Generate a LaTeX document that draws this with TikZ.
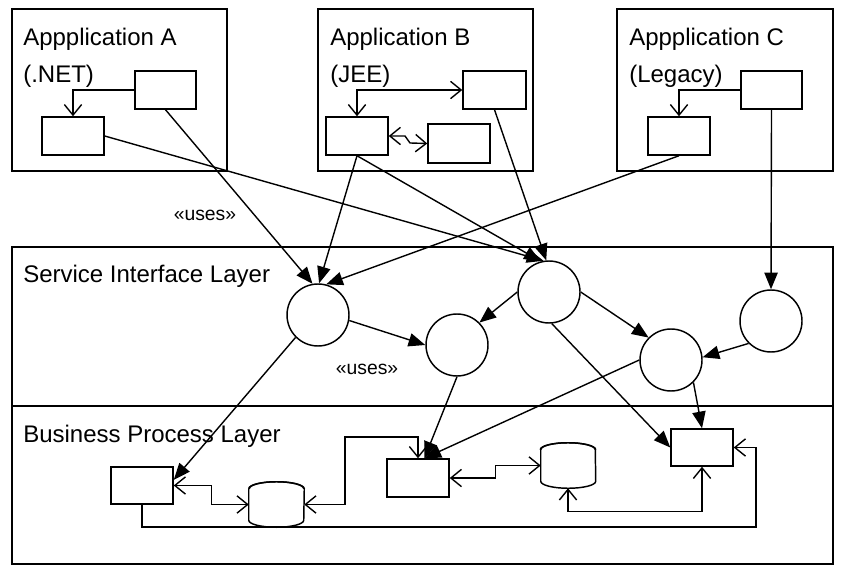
\documentclass[tikz,border=0pt]{standalone}
\usepackage{fontspec}
\setmainfont{Liberation Sans}
\usetikzlibrary{arrows.meta,fit,calc}
\begin{document}
\begin{tikzpicture}[x=0.75pt,y=-0.75pt,
  box/.style={draw,line width=1.1pt,inner sep=0pt,fit={#1}},
  layer/.style={draw,line width=1.2pt,inner sep=0pt,fit={#1}},
  svc/.style={draw,circle,line width=1.1pt,minimum size=46.5pt,inner sep=0pt},
  dbslot/.style={inner sep=0pt,fit={#1}},
  title/.style={anchor=base west,inner sep=0pt,font=\fontsize{18}{22}\selectfont},
  stereo/.style={inner sep=0pt,font=\fontsize{14.5}{16}\selectfont},
  conn/.style={line width=1.05pt},
  fa/.style={conn,-{Triangle[length=12.5pt,width=10pt]}},
  oa/.style={conn,-{Straight Barb[length=8pt,width=13pt]}},
  oab/.style={conn,{Straight Barb[length=8pt,width=13pt]}-{Straight Barb[length=8pt,width=13pt]}}
]
\useasboundingbox (0,0) rectangle (841,566);
\fill[white] (0,0) rectangle (841,566);

% application boxes
\node[box={(12,9) (227,171)}] (appA) {};
\node[box={(318,9) (533,171)}] (appB) {};
\node[box={(617,9) (833,171)}] (appC) {};
\node[title] (tA) at (23,46) {Appplication A};
\node[title] (tA2) at (23,83) {(.NET)};
\node[title] (tB) at (330,46) {Application B};
\node[title] (tB2) at (330,83) {(JEE)};
\node[title] (tC) at (629,46) {Appplication C};
\node[title] (tC2) at (629,83) {(Legacy)};

% inner boxes
\node[box={(135,71) (196,109)}] (aT) {};
\node[box={(42,117) (104,155)}] (aL) {};
\node[box={(463,71) (526,109)}] (bT) {};
\node[box={(326,117) (388,155)}] (bL) {};
\node[box={(428,124) (490,163)}] (bR) {};
\node[box={(741,71) (802,109)}] (cT) {};
\node[box={(648,117) (710,155)}] (cL) {};

% layers
\node[layer={(12,247) (833,406)}] (sil) {};
\node[layer={(12,406) (833,564)}] (bpl) {};
\node[title] (tS) at (23,282) {Service Interface Layer};
\node[title] (tP) at (23,442) {Business Process Layer};

% service circles
\node[svc] (s1) at (318,315) {};
\node[svc] (s2) at (457,345) {};
\node[svc] (s3) at (549,292) {};
\node[svc] (s4) at (671,360) {};
\node[svc] (s5) at (771,321) {};

% business process elements
\node[box={(111,467) (173,504)}] (p1) {};
\node[box={(387,459) (449,497)}] (p2) {};
\node[box={(671,429) (733,466)}] (p3) {};
\node[dbslot={(249,482) (304,527)}] (d1) {};
\node[dbslot={(541,443) (595,488)}] (d2) {};
\foreach \d in {d1,d2}{
  \draw[line width=1.1pt,fill=white]
    ($(\d.north west)+(0,7)$) -- ($(\d.south west)+(0,-7)$)
    arc[start angle=180,end angle=360,x radius=27.5,y radius=-7]
    -- ($(\d.north east)+(0,7)$)
    arc[start angle=0,end angle=180,x radius=27.5,y radius=-7];
  \draw[line width=1.1pt] ($(\d.north west)+(0,7)$)
    arc[start angle=180,end angle=360,x radius=27.5,y radius=7];
}

% stereotype labels
\node[stereo] (u1) at (205,215) {«uses»};
\node[stereo] (u2) at (367,369) {«uses»};

% connectors inside applications
\draw[oa] (aT.west) -| (aL.north);
\draw[oab] (bL.north) |- (bT.west);
\draw[oab] (bL.east) -- (405,136) -- (410,143) -- (bR.west);
\draw[oa] (cT.west) -| (cL.north);

% applications to services
\draw[fa] (aL.east) -- (s3.100);
\draw[fa] (aT.south) -- (s1.100);
\draw[fa] (bL.south) -- (s1.88);
\draw[fa] (bL.south) -- (s3.105);
\draw[fa] (bT.south) -- (s3.95);
\draw[fa] (cL.south) -- (s1.75);
\draw[fa] (cT.south) -- (s5.north);

% service to service
\draw[fa] (s1.-10) -- (s2.west);
\draw[fa] (s3.west) -- (s2.45);
\draw[fa] (s3.east) -- (s4.135);
\draw[fa] (s5.225) -- (s4.5);

% services to business processes
\draw[fa] (s3.-85) -- (p3.west);
\draw[fa] (s4.-45) -- (p3.north);
\draw[fa] (s4.west) -- (p2.72);
\draw[fa] (s2.south) -- (p2.72);
\draw[fa] (s1.225) -- (p1.10);

% business process connectors
\draw[oab] (p1.east) -- ++(38,0) |- (d1.west);
\draw[oab] (d1.east) -| (345,437) -| (p2.north);
\draw[oa] (p1.south) |- (756,527) |- (p3.east);
\draw[oab] (p2.east) -- ++(46,0) |- (d2.west);
\draw[oab] (d2.south) -- ++(0,23) -| (p3.south);
\end{tikzpicture}
\end{document}
